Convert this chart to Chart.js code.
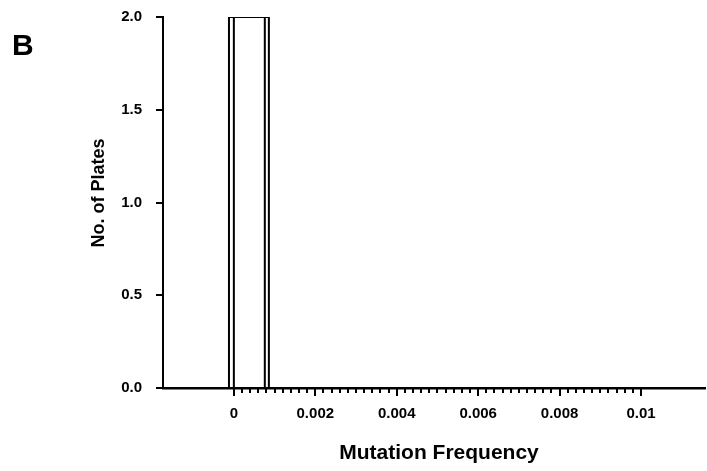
<!DOCTYPE html>
<html>
<head>
<meta charset="utf-8">
<script src="https://cdn.jsdelivr.net/npm/chart.js@4"></script>
<style>
  html, body { margin: 0; padding: 0; background: #fff; }
  #wrap { width: 707px; height: 471px; }
</style>
</head>
<body>
<div id="wrap"><canvas id="histo-chart" width="707" height="471"></canvas></div>
<script>
// histogram outline (drawn twice in the figure, slightly offset)
const binLeft = [-0.00012, 0];
const binRight = [0.00086, 0.00076];
const plateCounts = [2, 2];

const xTicks = [0, 0.002, 0.004, 0.006, 0.008, 0.01];
const xTickLabels = ['0', '0.002', '0.004', '0.006', '0.008', '0.01'];
const xMinorStep = 0.0002;
const yTicks = [0, 0.5, 1, 1.5, 2];
const yTickLabels = ['0.0', '0.5', '1.0', '1.5', '2.0'];

const FONT = 'Arial, "Liberation Sans", Helvetica, sans-serif';

// turn each bin into a closed outline
const outlines = binLeft.map((left, i) => ({
  data: [
    { x: left, y: 0 },
    { x: left, y: plateCounts[i] },
    { x: binRight[i], y: plateCounts[i] },
    { x: binRight[i], y: 0 },
  ],
  showLine: true,
  borderColor: '#000',
  borderWidth: 2,
  pointRadius: 0,
  fill: false,
}));

// tick marks, axis titles and the panel letter
const decorations = {
  id: 'decorations',
  afterDraw(chart) {
    const { ctx, scales: { x, y } } = chart;
    ctx.save();
    ctx.strokeStyle = '#000';
    ctx.lineWidth = 2;
    const n = Math.round(xTicks[xTicks.length - 1] / xMinorStep);
    for (let i = 0; i <= n; i++) {
      const px = Math.round(x.getPixelForValue(i * xMinorStep));
      const len = i % 10 === 0 ? 8 : 5;
      ctx.beginPath();
      ctx.moveTo(px, x.top);
      ctx.lineTo(px, x.top + len);
      ctx.stroke();
    }
    yTicks.forEach((v) => {
      const py = Math.round(y.getPixelForValue(v));
      ctx.beginPath();
      ctx.moveTo(y.right - 7, py);
      ctx.lineTo(y.right, py);
      ctx.stroke();
    });

    ctx.fillStyle = '#000';
    ctx.textAlign = 'center';
    ctx.textBaseline = 'middle';
    ctx.font = 'bold 21px ' + FONT;
    ctx.fillText('Mutation Frequency', 439, 453);

    ctx.save();
    ctx.translate(99, 193);
    ctx.rotate(-Math.PI / 2);
    ctx.font = 'bold 18px ' + FONT;
    ctx.fillText('No. of Plates', 0, 0);
    ctx.restore();

    ctx.textAlign = 'left';
    ctx.font = 'bold 30px ' + FONT;
    ctx.fillText('B', 12, 47);
    ctx.restore();
  },
};

new Chart(document.getElementById('histo-chart'), {
  type: 'scatter',
  data: { datasets: outlines },
  options: {
    responsive: false,
    animation: false,
    layout: { padding: { top: 17, right: 2, left: 0, bottom: 0 } },
    plugins: { legend: { display: false }, tooltip: { enabled: false } },
    scales: {
      x: {
        type: 'linear',
        min: -0.00174,
        max: 0.01157,
        afterBuildTicks: (scale) => { scale.ticks = xTicks.map((v) => ({ value: v })); },
        afterFit: (scale) => { scale.height = 83; },
        grid: { display: false },
        border: { color: '#000', width: 2.5 },
        ticks: {
          color: '#000',
          padding: 9,
          maxRotation: 0,
          font: { family: FONT, size: 15, weight: 'bold' },
          callback: (v) => xTickLabels[xTicks.indexOf(v)],
        },
      },
      y: {
        min: 0,
        max: 2,
        afterBuildTicks: (scale) => { scale.ticks = yTicks.map((v) => ({ value: v })); },
        afterFit: (scale) => {
          scale.width = 163;
          scale.paddingTop = 0;
          scale.paddingBottom = 0;
        },
        grid: { display: false },
        border: { color: '#000', width: 2 },
        ticks: {
          color: '#000',
          padding: 13,
          font: { family: FONT, size: 15, weight: 'bold' },
          callback: (v) => yTickLabels[yTicks.indexOf(v)],
        },
      },
    },
  },
  plugins: [decorations],
});
</script>
</body>
</html>
